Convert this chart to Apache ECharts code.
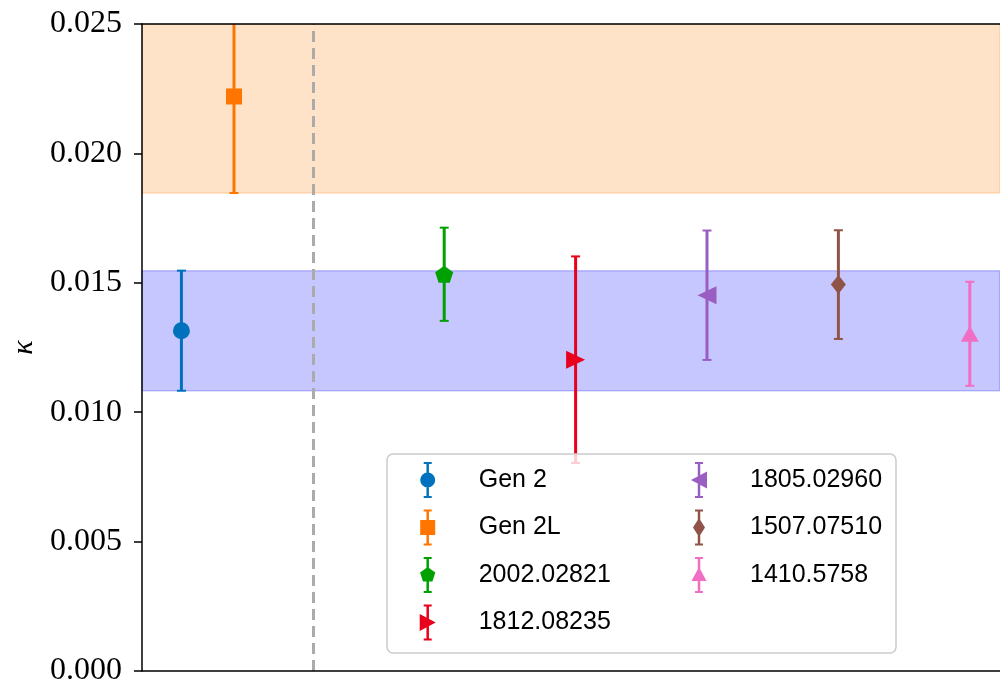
<!DOCTYPE html>
<html>
<head>
<meta charset="utf-8">
<script src="https://cdn.jsdelivr.net/npm/echarts@6/dist/echarts.min.js"></script>
<style>html,body{margin:0;padding:0;background:#fff}#c{width:1000px;height:685px}</style>
</head>
<body>
<div id="c"></div>
<script>
// ---- data ----
const names = ['Gen 2', 'Gen 2L', '2002.02821', '1812.08235', '1805.02960', '1507.07510', '1410.5758'];
const xPos = [0, 0.4, 2, 3, 4, 5, 6];
const kappa = [0.01315, 0.0222, 0.01533, 0.01203, 0.01452, 0.01493, 0.01303];
const kappaErr = [0.00232, 0.00373, 0.0018, 0.00399, 0.0025, 0.0021, 0.00201];
const dividerX = [1];
const yTicks = [0, 0.005, 0.010, 0.015, 0.020, 0.025];

// ---- styling ----
const colors = ['#0072BD', '#FF7500', '#00A000', '#E8001C', '#9A5DC1', '#8F5447', '#F06EC3'];
const symbols = [
  'circle',
  'rect',
  'path://M0,-1 L0.951,-0.309 L0.588,0.809 L-0.588,0.809 L-0.951,-0.309 Z',
  'path://M0,0 L1,0.5 L0,1 Z',
  'path://M1,0 L1,1 L0,0.5 Z',
  'diamond',
  'triangle'
];
const symbolSizes = [17, 16, [18, 17], [19, 18], [19, 18], [15, 19], [18, 16]];

// legend icon = errorbar + marker (all sub-paths clockwise)
const barPath = 'M6.75,0 H9.25 V36 H6.75 Z M4,0 H12 V2 H4 Z M4,34 H12 V36 H4 Z ';
const legendMarkers = [
  'M0.5,18 A7.5,7.5 0 1 1 15.5,18 A7.5,7.5 0 1 1 0.5,18 Z',
  'M0.5,10.5 H15.5 V25.5 H0.5 Z',
  'M8,10 L15.6,15.5 L12.7,24.5 L3.3,24.5 L0.4,15.5 Z',
  'M0,9.5 L16,18 L0,26.5 Z',
  'M16,9.5 L16,26.5 L0,18 Z',
  'M8,8.5 L14,18 L8,27.5 L2,18 Z',
  'M8,10 L15.5,24 L0.5,24 Z'
];

const X_MIN = -0.3, X_MAX = 6.23, Y_MIN = 0, Y_MAX = 0.025;

const series = [];
// bands
series.push({
  type: 'line', data: [], silent: true,
  markArea: {
    silent: true,
    data: [
      [{xAxis: X_MIN, yAxis: kappa[1] - kappaErr[1], itemStyle: {color: 'rgba(255,140,30,0.24)', borderColor: 'rgba(255,140,30,0.25)', borderWidth: 1.5}},
       {xAxis: X_MAX, yAxis: Math.min(kappa[1] + kappaErr[1], Y_MAX)}],
      [{xAxis: X_MIN, yAxis: kappa[0] - kappaErr[0], itemStyle: {color: 'rgba(0,0,255,0.22)', borderColor: 'rgba(0,0,255,0.22)', borderWidth: 1.5}},
       {xAxis: X_MAX, yAxis: kappa[0] + kappaErr[0]}]
    ]
  },
  markLine: {
    silent: true, symbol: 'none',
    label: {show: false},
    lineStyle: {color: '#ababab', type: [11, 6], width: 3},
    data: dividerX.map(v => ({xAxis: v}))
  }
});

names.forEach((n, i) => {
  const col = colors[i];
  series.push({
    type: 'custom', silent: true, z: 3,
    data: [[xPos[i], kappa[i], kappaErr[i]]],
    renderItem: function (params, api) {
      const x = api.value(0), y = api.value(1), e = api.value(2);
      const cs = params.coordSys;
      let top = api.coord([x, y + e]), bot = api.coord([x, y - e]);
      const children = [];
      let topClipped = false;
      if (top[1] < cs.y) { top = [top[0], cs.y]; topClipped = true; }
      children.push({type: 'line', shape: {x1: top[0], y1: top[1], x2: bot[0], y2: bot[1]}, style: {stroke: col, lineWidth: 3}});
      const cap = 4.5;
      if (!topClipped) children.push({type: 'line', shape: {x1: top[0] - cap, y1: top[1], x2: top[0] + cap, y2: top[1]}, style: {stroke: col, lineWidth: 2}});
      children.push({type: 'line', shape: {x1: bot[0] - cap, y1: bot[1], x2: bot[0] + cap, y2: bot[1]}, style: {stroke: col, lineWidth: 2}});
      return {type: 'group', children};
    }
  });
  series.push({
    type: 'scatter', name: n, z: 4, silent: true,
    data: [[xPos[i], kappa[i]]],
    symbol: symbols[i], symbolSize: symbolSizes[i],
    itemStyle: {color: col, opacity: 1, borderWidth: 0}
  });
});

const legendText = {fontFamily: '"Liberation Sans", sans-serif', fontSize: 25, color: '#000', padding: [0, 0, 0, 38]};
function legendData(idx) {
  return idx.map(i => ({name: names[i], icon: 'path://' + barPath + legendMarkers[i]}));
}

const option = {
  animation: false,
  backgroundColor: '#fff',
  grid: {left: 142, right: 0, top: 24, bottom: 14, containLabel: false, outerBoundsMode: 'none'},
  xAxis: [
    {type: 'value', min: X_MIN, max: X_MAX, z: 10,
     axisLine: {show: true, onZero: false, lineStyle: {color: '#000', width: 1.5}},
     axisTick: {show: false}, axisLabel: {show: false}, splitLine: {show: false}},
    {type: 'value', position: 'top', min: X_MIN, max: X_MAX, z: 10,
     axisLine: {show: true, onZero: false, lineStyle: {color: '#000', width: 1.5}},
     axisTick: {show: false}, axisLabel: {show: false}, splitLine: {show: false}}
  ],
  yAxis: {
    type: 'value', min: yTicks[0], max: yTicks[yTicks.length - 1], interval: yTicks[1] - yTicks[0], z: 10,
    name: 'κ', nameLocation: 'middle', nameGap: 103, nameRotate: 90,
    nameTextStyle: {fontFamily: '"Liberation Serif", serif', fontStyle: 'italic', fontSize: 30, color: '#000'},
    axisLine: {show: true, onZero: false, lineStyle: {color: '#000', width: 1.5}},
    axisTick: {show: true, inside: false, length: 8, lineStyle: {color: '#000', width: 1.5}},
    axisLabel: {formatter: v => v.toFixed(3), fontFamily: '"Liberation Serif", serif', fontSize: 32, color: '#000', margin: 20},
    splitLine: {show: false}
  },
  graphic: {elements: [{
    type: 'rect', z: 15, silent: true,
    shape: {x: 387, y: 454, width: 509, height: 199, r: 6},
    style: {fill: 'rgba(255,255,255,0.8)', stroke: '#cccccc', lineWidth: 1.5}
  }]},
  legend: [
    {orient: 'vertical', left: 419.7, top: 462, padding: 0, itemWidth: 16, itemHeight: 36, itemGap: 11.5,
     selectedMode: false, z: 20, textStyle: legendText, itemStyle: {borderWidth: 0}, data: legendData([0, 1, 2, 3])},
    {orient: 'vertical', left: 691, top: 462, padding: 0, itemWidth: 16, itemHeight: 36, itemGap: 11.5,
     selectedMode: false, z: 20, textStyle: legendText, itemStyle: {borderWidth: 0}, data: legendData([4, 5, 6])}
  ],
  series: series
};

const chart = echarts.init(document.getElementById('c'), null, {renderer: 'canvas'});
chart.setOption(option);
</script>
</body>
</html>
